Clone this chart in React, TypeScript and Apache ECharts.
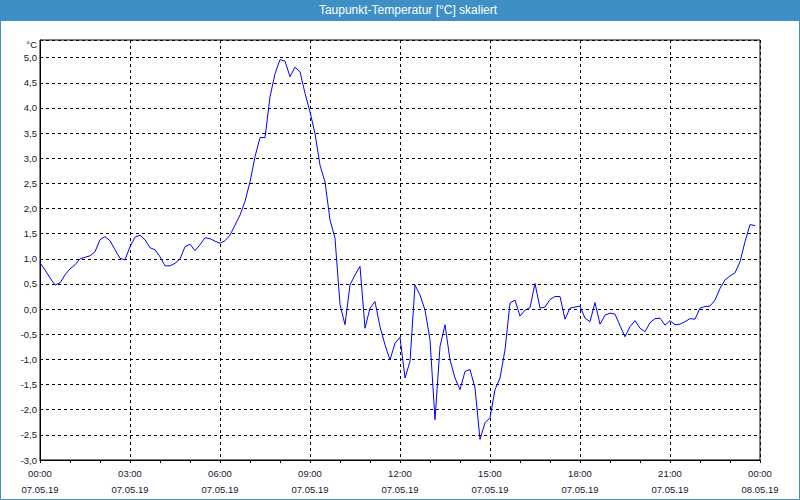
import React, { useEffect, useRef } from "react";
import * as echarts from "echarts";

// Dew point values every 10 minutes, 07.05.19 00:00 .. 23:50
const valuesNight: number[] = [
  0.92, 0.78, 0.62, 0.48, 0.52, 0.68, 0.8, 0.88, 1.0, 1.03,
  1.06, 1.14, 1.38, 1.44, 1.36, 1.18, 1.01, 0.98, 1.24, 1.43,
  1.47, 1.38, 1.22, 1.18, 1.04, 0.86, 0.86, 0.91, 1.0, 1.24,
  1.29, 1.16, 1.28, 1.42, 1.4, 1.35, 1.31, 1.36, 1.47, 1.67,
  1.87, 2.14, 2.53, 3.03, 3.41, 3.41, 4.22, 4.68, 4.96,
];
const valuesDay: number[] = [
  4.93, 4.62, 4.81, 4.72, 4.29, 3.92, 3.49, 2.86, 2.53, 1.77,
  1.41, 0.09, -0.31, 0.48, 0.68, 0.85, -0.38, 0.02, 0.15, -0.35,
  -0.71, -1.01, -0.68, -0.56, -1.37, -1.04, 0.48, 0.28, -0.02, -0.61,
  -2.2, -0.74, -0.31, -1.01, -1.37, -1.6, -1.24, -1.2, -1.57, -2.59,
  -2.26, -2.16, -1.6, -1.37, -0.81, 0.12, 0.18, -0.14,
];
const valuesEvening: number[] = [
  -0.02, 0.03, 0.51, 0.02, 0.04, 0.19, 0.25, 0.25, -0.2, 0.02,
  0.04, 0.06, -0.18, -0.25, 0.13, -0.3, -0.12, -0.08, -0.1, -0.33,
  -0.55, -0.35, -0.23, -0.38, -0.45, -0.27, -0.19, -0.18, -0.32, -0.23,
  -0.31, -0.3, -0.25, -0.19, -0.2, 0.02, 0.05, 0.06, 0.18, 0.41,
  0.58, 0.66, 0.72, 0.94, 1.34, 1.68, 1.66,
];
const stepMinutes = 10;
const dayLabels: string[] = ["07.05.19", "08.05.19"];
const titleText = "Taupunkt-Temperatur [°C] skaliert";
const unitText = "°C";

const FONT = "'Liberation Sans', Arial, sans-serif";
const TEXT_COLOR = "#141432";
const BLUE_FRAME = "#3d8fc5";

export default function App() {
  const ref = useRef<HTMLDivElement>(null);

  useEffect(() => {
    document.body.style.margin = "0";
    if (!ref.current) return;
    const chart = echarts.init(ref.current, undefined, { renderer: "svg" });
    const all = [...valuesNight, ...valuesDay, ...valuesEvening];
    const data = all.map((v, i) => [i * stepMinutes, v]);

    chart.setOption({
      animation: false,
      backgroundColor: "#ffffff",
      grid: {
        left: 40,
        right: 40,
        top: 40,
        bottom: 40,
        show: true,
        borderColor: "#000",
        borderWidth: 1,
        backgroundColor: "transparent",
      },
      xAxis: {
        type: "value",
        min: 0,
        max: 1440,
        interval: 180,
        axisLine: { show: true, onZero: false, lineStyle: { color: "#000", width: 1 } },
        axisTick: { show: true, length: 3, lineStyle: { color: "#000" } },
        minorTick: { show: true, splitNumber: 3, length: 3, lineStyle: { color: "#000" } },
        splitLine: { show: true, lineStyle: { color: "#000", type: [3, 3], width: 1 } },
        axisLabel: {
          margin: 6,
          fontFamily: FONT,
          fontSize: 9.5,
          color: TEXT_COLOR,
          lineHeight: 15.5,
          formatter: (v: number) => {
            const h = Math.round(v / 60) % 24;
            const d = v >= 1440 ? dayLabels[1] : dayLabels[0];
            return (h < 10 ? "0" : "") + h + ":00\n" + d;
          },
        },
      },
      yAxis: {
        type: "value",
        min: -3,
        max: 5.35,
        interval: 0.5,
        axisLine: { show: true, onZero: false, lineStyle: { color: "#000", width: 1 } },
        axisTick: { show: false },
        splitLine: { show: true, lineStyle: { color: "#000", type: [3, 3], width: 1 } },
        axisLabel: {
          margin: 3,
          fontFamily: FONT,
          fontSize: 9.5,
          color: TEXT_COLOR,
          formatter: (v: number) =>
            Math.abs(v * 2 - Math.round(v * 2)) < 1e-6 ? v.toFixed(1).replace(".", ",") : "",
        },
      },
      series: [
        {
          type: "line",
          data,
          showSymbol: false,
          silent: true,
          lineStyle: { color: "#0000ff", width: 1 },
        },
      ],
      graphic: [
        {
          type: "rect",
          shape: { x: 0, y: 0, width: 800, height: 21 },
          style: { fill: BLUE_FRAME },
          z: 10,
        },
        {
          type: "rect",
          shape: { x: 0.5, y: 0.5, width: 799, height: 499 },
          style: { fill: "none", stroke: BLUE_FRAME, lineWidth: 1 },
          z: 10,
        },
        {
          type: "text",
          x: 408,
          y: 10,
          z: 11,
          style: {
            text: titleText,
            fill: "#ffffff",
            font: "12px " + FONT,
            textAlign: "center",
            textVerticalAlign: "middle",
          },
        },
        {
          type: "text",
          x: 37,
          y: 44,
          z: 11,
          style: {
            text: unitText,
            fill: TEXT_COLOR,
            font: "9.5px " + FONT,
            textAlign: "right",
            textVerticalAlign: "middle",
          },
        },
      ],
    });

    return () => chart.dispose();
  }, []);

  return <div ref={ref} style={{ width: 800, height: 500 }} />;
}
